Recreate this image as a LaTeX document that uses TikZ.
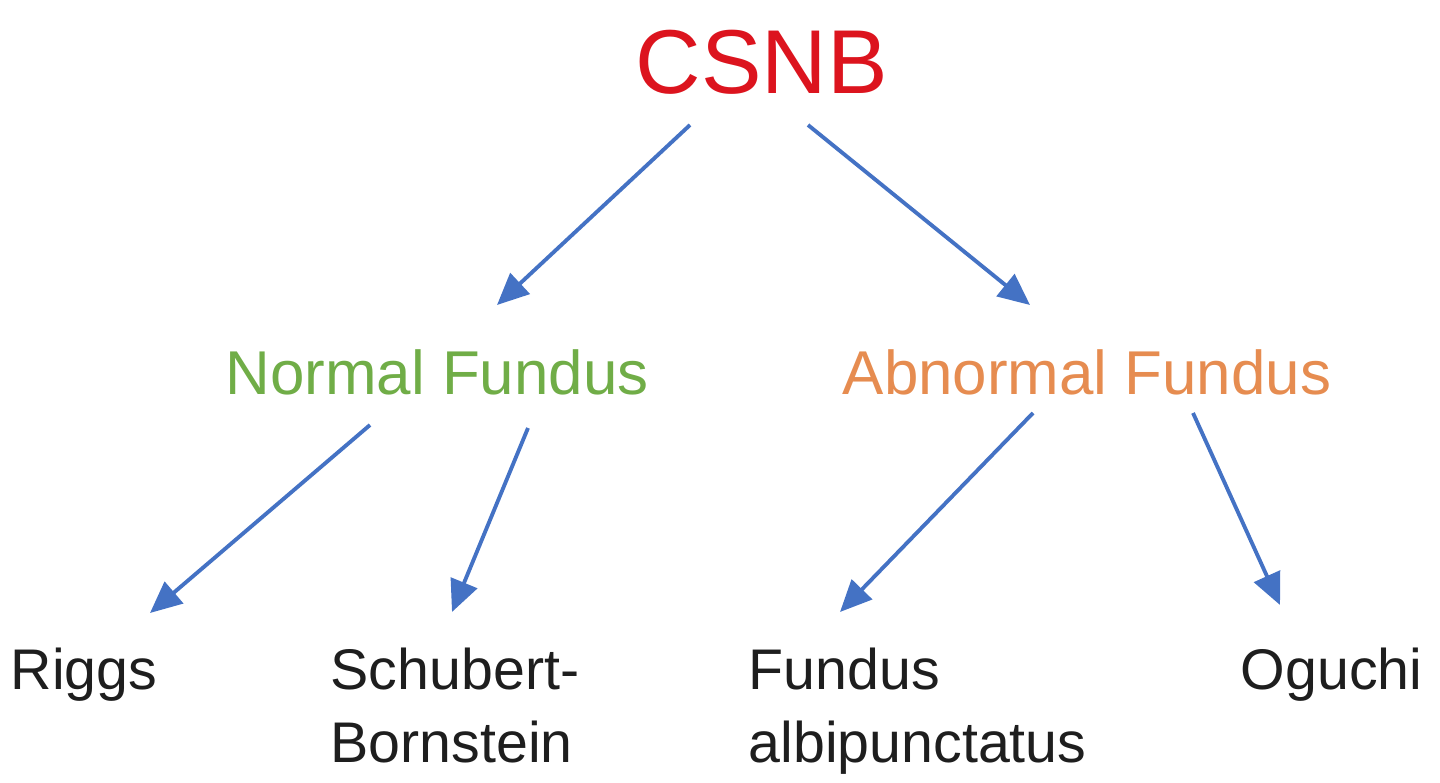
\documentclass[tikz,border=0pt]{standalone}
\usepackage{fontspec}
\setmainfont{Liberation Sans}
\usetikzlibrary{arrows.meta}
\definecolor{arr}{RGB}{68,114,196}
\definecolor{csnb}{RGB}{220,20,30}
\definecolor{grn}{RGB}{112,173,71}
\definecolor{org}{RGB}{230,140,80}
\definecolor{txt}{RGB}{30,30,30}
\tikzset{conn/.style={draw=arr,line width=1.1pt,-{Triangle[length=9pt,width=8pt]}},
 big/.style={font=\fontsize{25.8}{30}\selectfont},
 mid/.style={font=\fontsize{17.6}{21}\selectfont},
 leaf/.style={font=\fontsize{16.3}{20.5}\selectfont,text=txt,align=left,inner sep=0}}
\begin{document}
\begin{tikzpicture}[x=0.01cm,y=-0.01cm]
\useasboundingbox (0,0) rectangle (1440,783);
\node[big,text=csnb] (c) at (762,62) {CSNB};
\node[mid,text=grn] (n) at (437,372) {Normal Fundus};
\node[mid,text=org] (a) at (1087,372) {Abnormal Fundus};
\node[leaf,anchor=base west] (r) at (10,690) {Riggs};
\node[leaf,anchor=base west] (s) at (330,762) {Schubert-\\Bornstein};
\node[leaf,anchor=base west] (f) at (748,762) {Fundus\\albipunctatus};
\node[leaf,anchor=base west] (o) at (1240,690) {Oguchi};
\coordinate (c1) at (690,125); \coordinate (n1) at (497,305);
\coordinate (c2) at (808,125); \coordinate (a1) at (1030,305);
\coordinate (n2) at (370,425); \coordinate (r1) at (150,613);
\coordinate (n3) at (528,428); \coordinate (s1) at (452,612);
\coordinate (a2) at (1033,413); \coordinate (f1) at (840,612);
\coordinate (a3) at (1193,413); \coordinate (o1) at (1280,605);
\draw[conn] (c1) -- (n1);
\draw[conn] (c2) -- (a1);
\draw[conn] (n2) -- (r1);
\draw[conn] (n3) -- (s1);
\draw[conn] (a2) -- (f1);
\draw[conn] (a3) -- (o1);
\end{tikzpicture}
\end{document}
